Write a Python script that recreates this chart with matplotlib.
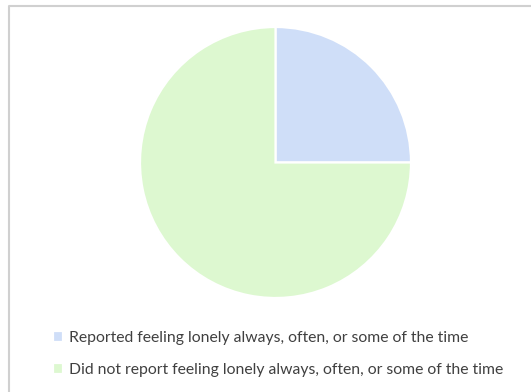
import matplotlib
matplotlib.use("Agg")
import matplotlib.pyplot as plt
from matplotlib.lines import Line2D

# Share of respondents by loneliness reporting
categories = [
    "Reported feeling lonely always, often, or some of the time",
    "Did not report feeling lonely always, often, or some of the time",
]
shares = [25, 75]
colors = ["#CFDEF8", "#DDF8D0"]

W, H = 531, 392
DPI = 100
fig = plt.figure(figsize=(W / DPI, H / DPI), dpi=DPI)
fig.patch.set_facecolor("white")

plt.rcParams["font.family"] = ["Lato", "DejaVu Sans"]

# Pie axes placed in pixel units
cx, cy, r = 275.5, 162.5, 135.5
ax = fig.add_axes([(cx - r) / W, 1 - (cy + r) / H, 2 * r / W, 2 * r / H])
wedges, _ = ax.pie(
    shares,
    colors=colors,
    startangle=90,
    counterclock=False,
    radius=1.0,
    wedgeprops=dict(edgecolor="white", linewidth=1.6),
)
ax.set_xlim(-1.0, 1.0)
ax.set_ylim(-1.0, 1.0)
ax.set_aspect("equal")
ax.axis("off")

# Legend below the pie
fig.legend(
    wedges,
    categories,
    loc="upper left",
    bbox_to_anchor=(39 / W, 1 - 317 / H),
    frameon=False,
    fontsize=11.3,
    handlelength=0.65,
    handleheight=0.65,
    handletextpad=0.35,
    labelspacing=1.15,
    labelcolor="#404040",
)

# Chart area frame (top and left edges)
fig.add_artist(Line2D([8.5 / W, 8.5 / W, 1.0], [0.0, 1 - 5.5 / H, 1 - 5.5 / H],
                      transform=fig.transFigure, color="#D0D0D0", linewidth=1.5))

fig.savefig("out.png", dpi=DPI, facecolor="white")
